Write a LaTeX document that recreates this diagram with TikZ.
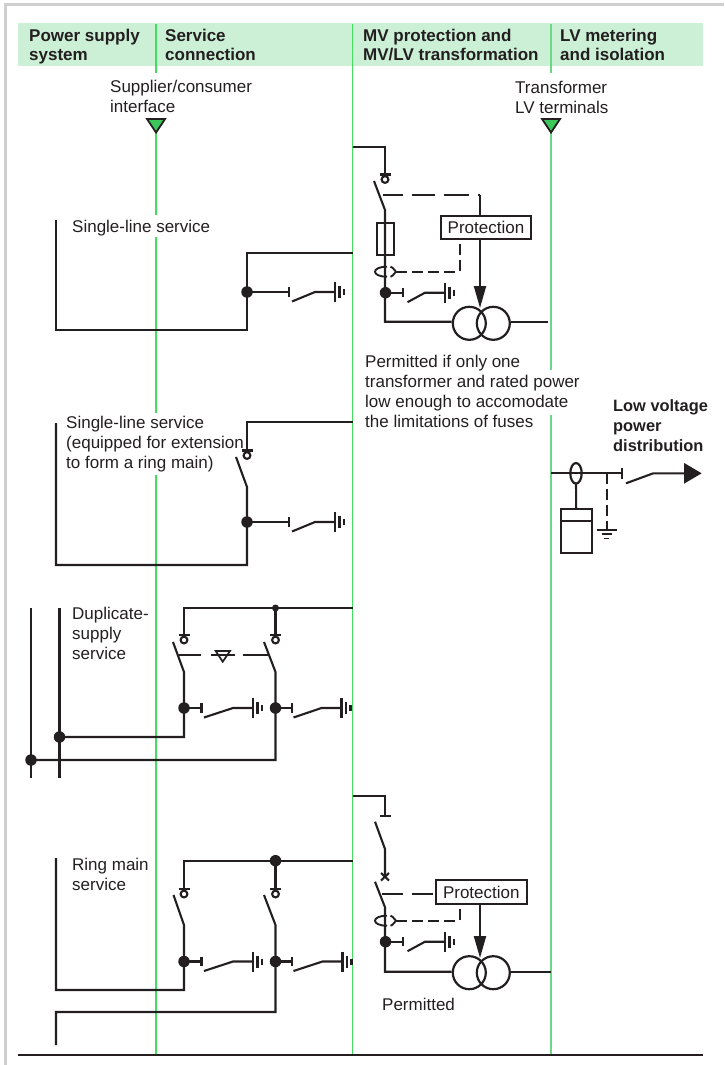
\documentclass[tikz,border=0pt]{standalone}
\usepackage{fontspec}
\setmainfont{Liberation Sans}
\usetikzlibrary{arrows.meta}
\definecolor{ink}{HTML}{231F20}
\definecolor{hdr}{HTML}{CCF0D6}
\definecolor{rule}{HTML}{45DD5F}
\definecolor{rulepale}{HTML}{6ED688}
\definecolor{tri}{HTML}{3CC85A}
\definecolor{frame}{HTML}{CFCFCF}
\tikzset{
  wire/.style={draw=ink,line width=2.1pt},
  dashwire/.style={draw=ink,line width=1.9pt},
  divider/.style={draw=rule,line width=1.4pt},
  dotj/.style={circle,fill=ink,draw=none,inner sep=0pt,minimum size=11.5pt},
  lbl/.style={anchor=west,inner sep=0pt,align=left,text=ink,font=\fontsize{17}{20}\selectfont,
    execute at begin node=\strut,execute at end node=\strut},
  head/.style={anchor=west,inner sep=0pt,align=left,text=ink,font=\fontsize{17}{19}\selectfont\bfseries,
    execute at begin node=\strut,execute at end node=\strut},
  protbox/.style={draw=ink,line width=2.2pt,fill=white,inner sep=0pt,text=ink,font=\fontsize{17}{18}\selectfont},
  xfmr/.style={circle,draw=ink,line width=2.2pt,inner sep=0pt,minimum size=33pt},
  lug/.style={draw=ink,line width=2.1pt},
}
\newcommand{\DiscTop}[2]{%
  \draw[lug] (#1-5.5,#2) -- (#1+5.5,#2);
  \draw[lug] (#1,#2+5) circle (3.4pt);}
\newcommand{\EarthSw}[5]{%
  \draw[wire] (#1,#2) -- (#1+#3,#2);
  \draw[wire] (#1+#3,#2-4.7) -- (#1+#3,#2+4.7);
  \draw[wire] (#1+#4,#2+9.5) -- (#1+#5,#2) -- (#1+#5+20,#2);
  \draw[wire] (#1+#5+20,#2-10) -- (#1+#5+20,#2+10);
  \draw[wire] (#1+#5+24.5,#2-6) -- (#1+#5+24.5,#2+6);
  \draw[wire] (#1+#5+29,#2-3) -- (#1+#5+29,#2+3);
  \node[dotj] at (#1,#2) {};}
\newcommand{\CurTr}[2]{%
  \draw[line width=1.9pt,draw=ink] (#1+2,#2-5) .. controls (#1-14,#2-5) and (#1-14,#2+5) .. (#1+2,#2+5);
  \draw[line width=1.9pt,draw=ink] (#1+5.5,#2+5) .. controls (#1+9,#2+4) and (#1+9,#2+1) .. (#1+11,#2);
  \draw[line width=1.9pt,draw=ink] (#1+5.5,#2-5) .. controls (#1+9,#2-4) and (#1+9,#2-1) .. (#1+11,#2);}
\begin{document}
\begin{tikzpicture}[x=1pt,y=-1pt]
\useasboundingbox (0,0) rectangle (724,1065);
\draw[frame,line width=3pt] (5,1065) -- (5,5) -- (724,5);
\fill[hdr] (18,23) rectangle (703,66);
\coordinate (d1a) at (156,24); \coordinate (d1b) at (156,73);
\coordinate (d1c) at (156,130); \coordinate (d1d) at (156,215);
\coordinate (d1e) at (156,237); \coordinate (d1f) at (156,413);
\coordinate (d1g) at (156,475); \coordinate (d1h) at (156,1055);
\draw[divider] (d1a) -- (d1b); \draw[divider] (d1c) -- (d1d);
\draw[divider] (d1e) -- (d1f); \draw[divider] (d1g) -- (d1h);
\coordinate (d2t) at (352.5,24); \coordinate (d2b) at (352.5,1055);
\draw[divider] (d2t) -- (d2b);
\coordinate (d3a) at (551,24); \coordinate (d3b) at (551,73);
\coordinate (d3c) at (551,130); \coordinate (d3d) at (551,370);
\coordinate (d3e) at (551,415); \coordinate (d3f) at (551,1055);
\draw[divider,draw=rulepale] (d3a) -- (d3b); \draw[divider,draw=rulepale] (d3c) -- (d3d);
\draw[divider,draw=rulepale] (d3e) -- (d3f);
\coordinate (bl) at (18,1055); \coordinate (br) at (703,1055);
\draw[wire] (bl) -- (br);
\node[head] (h1) at (29,47.2) {Power supply\\system};
\node[head] (h2) at (165,47.2) {Service\\connection};
\node[head] (h3) at (363,47.2) {MV protection and\\MV/LV transformation};
\node[head] (h4) at (560,47.2) {LV metering\\and isolation};
\node[lbl] (l1) at (110,99.7) {Supplier/consumer\\interface};
\node[lbl] (l2) at (515,100) {Transformer\\LV terminals};
\foreach \tx in {156,551}{
  \draw[ink,fill=tri,line width=1.8pt,line join=miter] (\tx-9,119) -- (\tx+9,119) -- (\tx,132.5) -- cycle;}
% service 1
\node[lbl] (s1) at (72,228.7) {Single-line service};
\coordinate (a1) at (56,220); \coordinate (a2) at (56,330);
\coordinate (a3) at (247,330); \coordinate (a4) at (247,253); \coordinate (a5) at (352.5,253);
\draw[wire,line join=miter] (a1) -- (a2) -- (a3) -- (a4) -- (a5);
\EarthSw{247}{292}{42}{45}{68}
% service 2
\node[lbl] (s2) at (66,445.3) {Single-line service\\(equipped for extension\\to form a ring main)};
\coordinate (b1) at (56,423); \coordinate (b2) at (56,565);
\coordinate (b3) at (247,565); \coordinate (b4) at (247,487);
\coordinate (b5) at (236,457); \coordinate (b6) at (247,422); \coordinate (b7) at (352.5,422);
\coordinate (b8) at (247,451);
\draw[wire] (b1) -- (b2) -- (b3) -- (b4) -- (b5);
\draw[wire] (b7) -- (b6) -- (b8);
\DiscTop{247}{450.5}
\EarthSw{247}{522}{42}{45}{68}
% service 3
\node[lbl] (s3) at (72,636.3) {Duplicate-\\supply\\service};
\coordinate (c1) at (31,608); \coordinate (c2) at (31,778);
\coordinate (c3) at (59.5,608); \coordinate (c4) at (59.5,778);
\draw[wire] (c1) -- (c2); \draw[wire] (c3) -- (c4);
\coordinate (c5) at (59.5,737); \coordinate (c6) at (184,737); \coordinate (c7) at (184,672); \coordinate (c8) at (173,642);
\draw[wire] (c5) -- (c6) -- (c7) -- (c8);
\coordinate (c9) at (31,760); \coordinate (c10) at (275.5,760); \coordinate (c11) at (275.5,672); \coordinate (c12) at (264,642);
\draw[wire] (c9) -- (c10) -- (c11) -- (c12);
\node[dotj] at (c5) {}; \node[dotj] at (c9) {};
\coordinate (c13) at (184,635); \coordinate (c14) at (184,608); \coordinate (c15) at (352.5,608);
\coordinate (c16) at (275.5,608); \coordinate (c17) at (275.5,635);
\draw[wire] (c13) -- (c14) -- (c15); \draw[wire] (c16) -- (c17);
\node[circle,fill=ink,inner sep=0pt,minimum size=7pt] at (c16) {};
\DiscTop{184}{635} \DiscTop{275.5}{635}
\EarthSw{184}{708}{17.5}{20}{49}
\EarthSw{275.5}{708}{16.5}{18}{46}
\coordinate (c18) at (179,655); \coordinate (c19) at (269,655);
\draw[dashwire,dash pattern=on 22pt off 10pt on 24pt off 8pt on 25pt off 0pt] (c18) -- (c19);
\draw[ink,line width=1.7pt] (215.7,651) -- (230,651) -- (222.7,661.7) -- cycle;
% service 4
\node[lbl] (s4) at (72,877.5) {Ring main\\service};
\coordinate (e1) at (56,858); \coordinate (e2) at (56,990);
\coordinate (e3) at (184,990); \coordinate (e4) at (184,925); \coordinate (e5) at (173.5,895);
\draw[wire] (e1) -- (e2) -- (e3) -- (e4) -- (e5);
\coordinate (e6) at (352.5,860.7); \coordinate (e7) at (184,860.7); \coordinate (e8) at (184,889);
\draw[wire] (e6) -- (e7) -- (e8);
\coordinate (f1) at (275.5,860.7); \coordinate (f2) at (275.5,889);
\draw[wire] (f1) -- (f2);
\node[dotj] at (f1) {};
\coordinate (f3) at (56,1045); \coordinate (f4) at (56,1012); \coordinate (f5) at (275.5,1012);
\coordinate (f6) at (275.5,925); \coordinate (f7) at (264,895);
\draw[wire] (f3) -- (f4) -- (f5) -- (f6) -- (f7);
\DiscTop{184}{889} \DiscTop{275.5}{889}
\EarthSw{184}{961.5}{17.5}{20}{49}
\EarthSw{275.5}{961.5}{16.5}{18}{47}
% MV top
\node[protbox,minimum width=90pt,minimum height=23pt] (p1) at (486,227.7) {Protection};
\node[xfmr] (t1a) at (469.3,323.3) {}; \node[xfmr] (t1b) at (493.3,323.3) {};
\coordinate (g1) at (352.5,147); \coordinate (g2) at (385,147); \coordinate (g3) at (385,174.5);
\draw[wire] (g1) -- (g2) -- (g3);
\DiscTop{385}{174.5}
\coordinate (g4) at (374,181); \coordinate (g5) at (385,210); \coordinate (g6) at (385,321.7);
\draw[wire] (g4) -- (g5) -- (g6) -- (g6 -| t1a.west);
\draw[draw=ink,line width=2.2pt] (377.3,222.7) rectangle (393.7,255);
\draw[wire] (t1b.east |- g6) -- (548,321.7);
\coordinate (g7) at (383,195); \coordinate (g8) at (480,195);
\draw[dashwire,dash pattern=on 19.5pt off 9pt on 23pt off 9pt on 25pt off 9pt on 10pt off 0pt] (g7) -- (g8);
\draw[wire] (g8) -- (g8 |- p1.north);
\CurTr{385}{271.7}
\coordinate (g9) at (396,271.7); \coordinate (g10) at (459.7,271.7);
\draw[dashwire,dash pattern=on 11pt off 5pt] (g9) -- (g10) -- (g10 |- p1.south);
\EarthSw{385.5}{292.7}{17.5}{22}{39.5}
\coordinate (g11) at (480,308);
\draw[wire,-{Triangle[length=22pt,width=12pt]}] (g11 |- p1.south) -- (g11);
\node[lbl] (n1) at (365,394) {Permitted if only one\\transformer and rated power\\low enough to accomodate\\the limitations of fuses};
% LV
\node[lbl,font=\fontsize{16.4}{20}\selectfont\bfseries] (n2) at (613,429) {Low voltage\\power\\distribution};
\coordinate (k1) at (551,473.3); \coordinate (k2) at (621.7,473.3);
\draw[wire] (k1) -- (k2);
\draw[wire] (k2 |- 0,468) -- (k2 |- 0,479);
\coordinate (k3) at (626,483.3); \coordinate (k4) at (653.3,473.3); \coordinate (k5) at (701.7,473.3);
\draw[wire,-{Triangle[length=17.5pt,width=20pt]}] (k3) -- (k4) -- (k5);
\draw[draw=ink,line width=2.2pt] (576,473.3) ellipse (5.7pt and 10.3pt);
\node[draw=ink,line width=2.2pt,inner sep=0pt,minimum width=31pt,minimum height=43.3pt] (k6) at (576.2,531) {};
\draw[wire] (576,483.6) -- (k6.north);
\draw[wire] (k6.west |- 0,521) -- (k6.east |- 0,521);
\coordinate (k7) at (606.7,473.3); \coordinate (k8) at (606.7,530);
\draw[dashwire,dash pattern=on 11pt off 5pt] (k7) -- (k8);
\draw[wire,line width=1.8pt] (596.7,530) -- (616.7,530);
\draw[wire,line width=1.8pt] (601.7,534.3) -- (611.7,534.3);
\draw[wire,line width=1.8pt] (604.4,538.4) -- (609,538.4);
% MV bottom
\node[protbox,minimum width=90.7pt,minimum height=24pt] (p2) at (481.3,892) {Protection};
\node[xfmr] (t2a) at (469.3,972.7) {}; \node[xfmr] (t2b) at (493.3,972.7) {};
\coordinate (m1) at (352.5,796); \coordinate (m2) at (385,796); \coordinate (m3) at (385,816);
\draw[wire] (m1) -- (m2) -- (m3);
\draw[wire] (380,816) -- (390.7,816);
\coordinate (m4) at (375,821.7); \coordinate (m5) at (385,849); \coordinate (m6) at (385,876.7);
\draw[wire] (m4) -- (m5) -- (m6);
\draw[wire] (381,873) -- (389,880.5); \draw[wire] (389,873) -- (381,880.5);
\coordinate (m7) at (375,881.7); \coordinate (m8) at (385,907.3); \coordinate (m9) at (385,971.7);
\draw[wire] (m7) -- (m8) -- (m9) -- (m9 -| t2a.west);
\draw[wire] (t2b.east |- m9) -- (551,971.7);
\coordinate (m10) at (382,894);
\draw[dashwire,dash pattern=on 21pt off 9pt] (m10) -- (m10 -| p2.west);
\CurTr{385}{920.7}
\coordinate (m11) at (396,920.7); \coordinate (m12) at (459.7,920.7);
\draw[dashwire,dash pattern=on 11pt off 5pt] (m11) -- (m12) -- (m12 |- p2.south);
\EarthSw{385.5}{941.7}{17.5}{22}{39.5}
\coordinate (m13) at (480,958);
\draw[wire,-{Triangle[length=22pt,width=12pt]}] (m13 |- p2.south) -- (m13);
\node[lbl] (n3) at (382,1006) {Permitted};
\end{tikzpicture}
\end{document}
